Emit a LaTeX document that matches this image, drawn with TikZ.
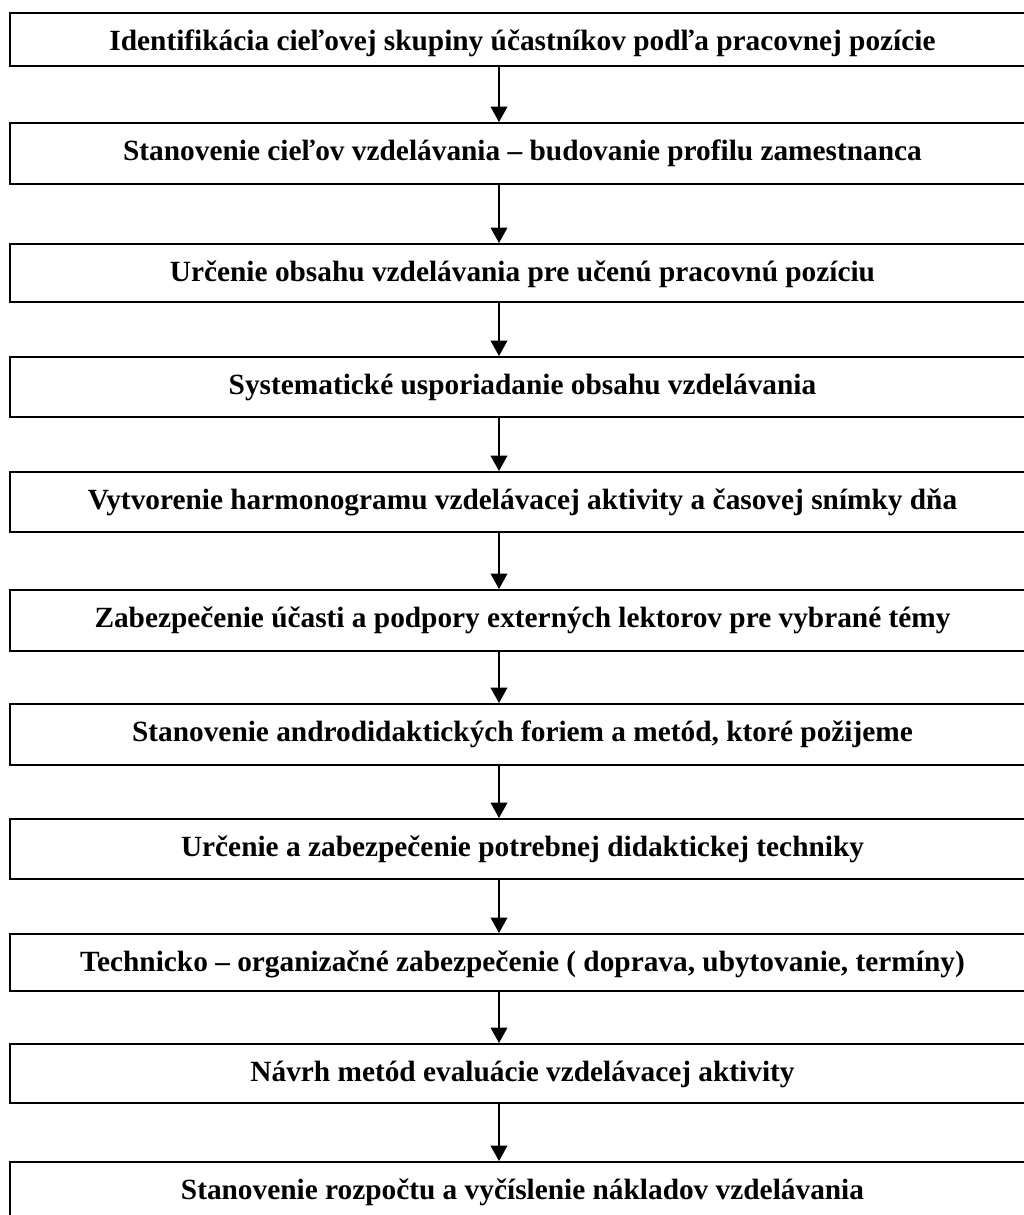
\documentclass[tikz,border=0pt]{standalone}
\usepackage{fontspec}
\setmainfont{Liberation Serif}
\usetikzlibrary{arrows.meta}

\tikzset{
  stage/.style={draw=black, line width=1.5pt, inner sep=0pt, rectangle,
    anchor=north west, minimum width=768.75pt, text height=28.1pt,
    font=\fontsize{22}{26}\selectfont\bfseries, text=black},
  flow/.style={draw=black, line width=1pt,
    -{Triangle[width=12.5pt,length=11.5pt]}}
}

\begin{document}
\begin{tikzpicture}[x=0.75pt,y=-0.75pt]
  \useasboundingbox (0,0) rectangle (1024,1215);
  \clip (0,0) rectangle (1024,1215);
  \fill[white] (0,0) rectangle (1024,1215);

  % process stages, each box spans the full width
  \node[stage, text depth=11.6pt] (b1) at (9,12)
    {Identifikácia cieľovej skupiny účastníkov podľa pracovnej pozície};
  \node[stage, text depth=17.6pt] (b2) at (9,122)
    {Stanovenie cieľov vzdelávania – budovanie profilu zamestnanca};
  \node[stage, text depth=15.4pt] (b3) at (9,243)
    {Určenie obsahu vzdelávania pre učenú pracovnú pozíciu};
  \node[stage, text depth=16.9pt] (b4) at (9,356)
    {Systematické usporiadanie obsahu vzdelávania};
  \node[stage, text depth=16.9pt] (b5) at (9,471)
    {Vytvorenie harmonogramu vzdelávacej aktivity a časovej snímky dňa};
  \node[stage, text depth=17.6pt] (b6) at (9,589)
    {Zabezpečenie účasti a podpory externých lektorov pre vybrané témy};
  \node[stage, text depth=17.6pt] (b7) at (9,703)
    {Stanovenie androdidaktických foriem a metód, ktoré požijeme};
  \node[stage, text depth=16.9pt] (b8) at (9,818)
    {Určenie a zabezpečenie potrebnej didaktickej techniky};
  \node[stage, text depth=14.6pt] (b9) at (9,933)
    {Technicko – organizačné zabezpečenie ( doprava, ubytovanie, termíny)};
  \node[stage, text depth=16.1pt] (b10) at (9,1043)
    {Návrh metód evaluácie vzdelávacej aktivity};
  \node[stage, text depth=16.9pt] (b11) at (9,1161)
    {Stanovenie rozpočtu a vyčíslenie nákladov vzdelávania};

  % common vertical axis of the connectors
  \coordinate (ax) at (499,0);

  \foreach \a/\b in {b1/b2,b2/b3,b3/b4,b4/b5,b5/b6,b6/b7,b7/b8,b8/b9,b9/b10,b10/b11}
    \draw[flow] (\a.south -| ax) -- (\b.north -| ax);
\end{tikzpicture}
\end{document}
